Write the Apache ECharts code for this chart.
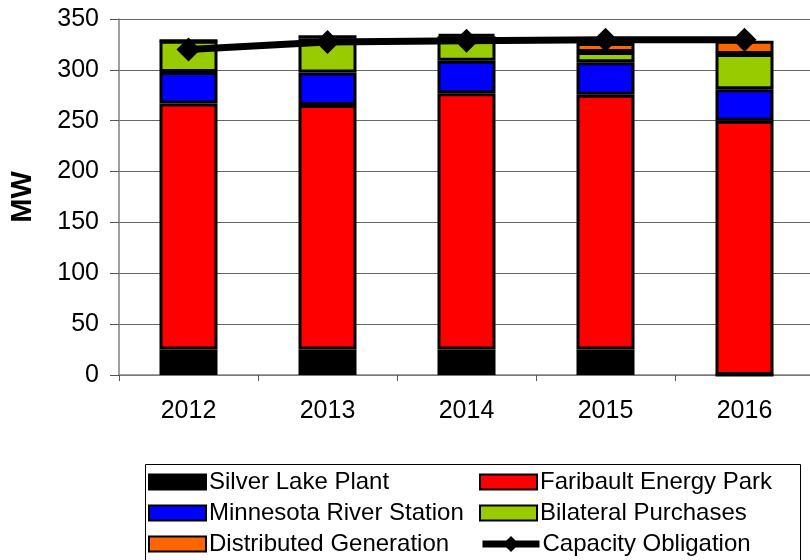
<!DOCTYPE html>
<html>
<head>
<meta charset="utf-8">
<script src="https://cdn.jsdelivr.net/npm/echarts@6/dist/echarts.min.js"></script>
<style>
  html, body { margin: 0; padding: 0; background: #fff; }
  #chart { width: 810px; height: 560px; }
</style>
</head>
<body>
<div id="chart"></div>
<script>
// Capacity resources by year (MW)
const years = ['2012', '2013', '2014', '2015', '2016'];
const silverLake = [25, 25, 25, 25, 0];
const faribault = [242, 240.5, 252, 250.5, 250];
const minnesotaRiver = [31, 32, 32, 32, 31];
const bilateral = [30.5, 33.5, 24, 10, 34.5];
const distributed = [0, 3, 2, 9, 13];
const obligation = [320, 327.5, 328.5, 329.5, 329.5];
const yTicks = { min: 0, max: 350, step: 50 };

const SANS = '"Liberation Sans", Arial, sans-serif';

function barSeries(name, data, color) {
  return {
    name: name,
    type: 'bar',
    stack: 'cap',
    data: data,
    barWidth: 58,
    itemStyle: { color: color, borderColor: '#000', borderWidth: 3 }
  };
}

const legendBase = {
  orient: 'vertical',
  top: 468,
  height: 200,
  padding: 0,
  itemWidth: 57, itemHeight: 15, itemGap: 3,
  textStyle: { color: '#000', fontSize: 24, fontFamily: SANS, lineHeight: 28, padding: [0, 0, 0, -2] }
};

const chart = echarts.init(document.getElementById('chart'), null, { renderer: 'canvas' });

chart.setOption({
  animation: false,
  backgroundColor: '#fff',
  grid: { left: 119, top: 19, right: -4, bottom: 185, outerBoundsMode: 'none', containLabel: false },
  xAxis: {
    type: 'category',
    data: years,
    axisLine: { lineStyle: { color: '#808080', width: 1.5 } },
    axisTick: { show: true, length: 6, lineStyle: { color: '#555' } },
    axisLabel: { color: '#000', fontSize: 25, fontFamily: SANS, margin: 24 }
  },
  yAxis: {
    type: 'value',
    min: yTicks.min,
    max: yTicks.max,
    interval: yTicks.step,
    name: 'MW',
    nameLocation: 'middle',
    nameGap: 82,
    nameTextStyle: { color: '#000', fontSize: 29, fontWeight: 'bold', fontFamily: SANS },
    axisLine: { show: true, lineStyle: { color: '#808080', width: 1.5 } },
    axisTick: { show: true, length: 9, lineStyle: { color: '#555' } },
    axisLabel: { color: '#000', fontSize: 25, fontFamily: SANS, margin: 20 },
    splitLine: { show: true, lineStyle: { color: '#666', width: 1 } }
  },
  legend: [
    Object.assign({}, legendBase, {
      left: 148,
      icon: 'rect',
      data: ['Silver Lake Plant', 'Minnesota River Station', 'Distributed Generation']
    }),
    Object.assign({}, legendBase, {
      left: 479,
      icon: 'rect',
      data: ['Faribault Energy Park', 'Bilateral Purchases']
    }),
    // line entry gets a taller item so its diamond marker reads clearly
    Object.assign({}, legendBase, {
      left: 479,
      top: 530,
      itemHeight: 20,
      data: [
        { name: 'Capacity Obligation', lineStyle: { width: 7, color: '#000' }, itemStyle: { color: '#000' } }
      ]
    })
  ],
  graphic: [{
    type: 'rect',
    left: 143, top: 462,
    shape: { width: 655, height: 110 },
    style: { fill: 'none', stroke: '#000', lineWidth: 1 },
    silent: true
  }],
  series: [
    barSeries('Silver Lake Plant', silverLake, '#000000'),
    barSeries('Faribault Energy Park', faribault, '#ff0000'),
    barSeries('Minnesota River Station', minnesotaRiver, '#0000ff'),
    barSeries('Bilateral Purchases', bilateral, '#99cc00'),
    barSeries('Distributed Generation', distributed, '#ff6600'),
    {
      name: 'Capacity Obligation',
      type: 'line',
      data: obligation,
      symbol: 'diamond',
      symbolSize: 24,
      lineStyle: { color: '#000', width: 7 },
      itemStyle: { color: '#000' },
      z: 5
    }
  ]
});
</script>
</body>
</html>
